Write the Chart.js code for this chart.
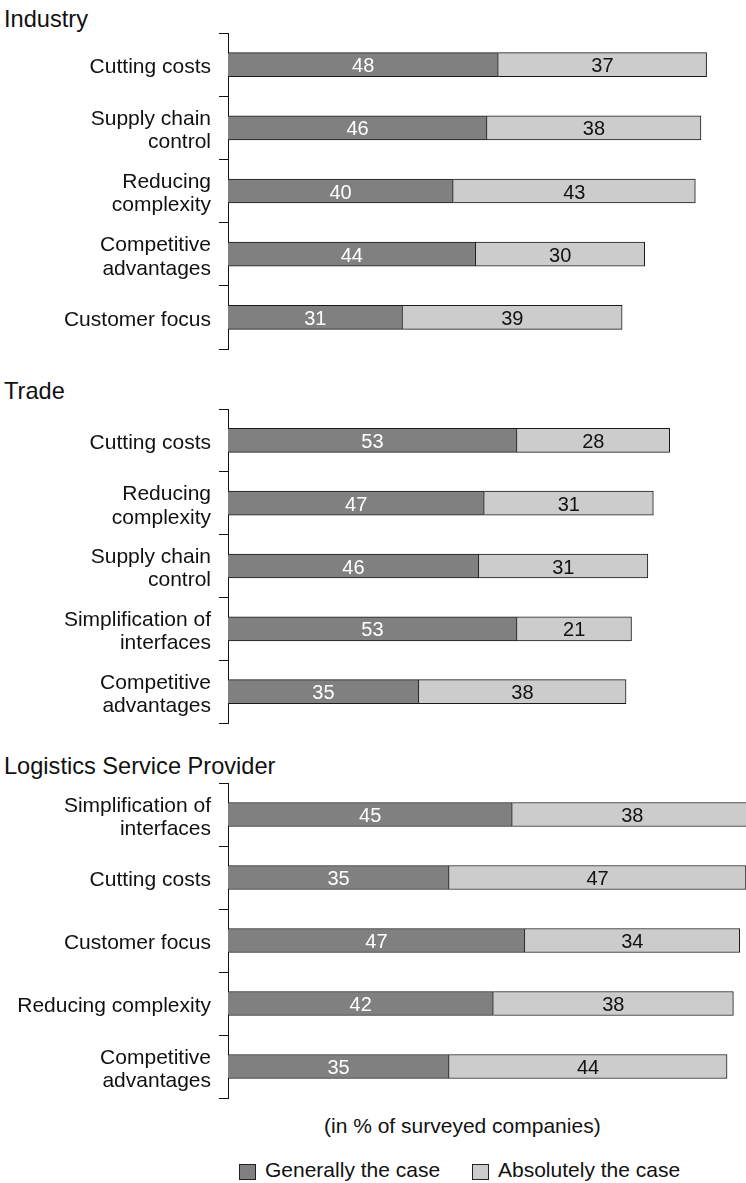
<!DOCTYPE html>
<html>
<head>
<meta charset="utf-8">
<script src="https://cdn.jsdelivr.net/npm/chart.js@4.4.0/dist/chart.umd.min.js"></script>
<style>
    body {
        margin: 0;
        width: 746px;
        height: 1183px;
        position: relative;
        overflow: hidden;
        background: #fff;
        color: #111;
        font-family: "Liberation Sans", Arial, sans-serif;
    }
    .panel-title {
        position: absolute;
        left: 4px;
        font-size: 23.6px;
        line-height: 1;
        white-space: nowrap;
    }
    .chart-box {
        position: absolute;
        left: 0;
    }
    .note {
        position: absolute;
        left: 324px;
        top: 1115px;
        font-size: 21px;
        line-height: 1;
        white-space: nowrap;
    }
    .legend-item {
        position: absolute;
        top: 1159px;
        font-size: 21px;
        line-height: 1;
        white-space: nowrap;
    }
    .swatch {
        position: absolute;
        top: 5px;
        left: -26px;
        width: 15px;
        height: 14px;
        border: 1px solid #222;
    }
</style>
</head>
<body>

<div class="panel-title" style="top:8px">Industry</div>
<canvas id="industryChart" class="chart-box" style="top:32px" width="746" height="320"></canvas>

<div class="panel-title" style="top:380px">Trade</div>
<canvas id="tradeChart" class="chart-box" style="top:408px" width="746" height="318"></canvas>

<div class="panel-title" style="top:755px">Logistics Service Provider</div>
<canvas id="lspChart" class="chart-box" style="top:782px" width="746" height="319"></canvas>

<div class="note">(in % of surveyed companies)</div>

<div class="legend-item" style="left:265px"><span class="swatch" style="background:#808080"></span>Generally the case</div>
<div class="legend-item" style="left:498px"><span class="swatch" style="background:#cccccc"></span>Absolutely the case</div>

<script>
const seriesNames = ['Generally the case', 'Absolutely the case'];

const industryLabels = ['Cutting costs', ['Supply chain', 'control'], ['Reducing', 'complexity'], ['Competitive', 'advantages'], 'Customer focus'];
const industryGeneral = [48, 46, 40, 44, 31];
const industryAbsolute = [37, 38, 43, 30, 39];

const tradeLabels = ['Cutting costs', ['Reducing', 'complexity'], ['Supply chain', 'control'], ['Simplification of', 'interfaces'], ['Competitive', 'advantages']];
const tradeGeneral = [53, 47, 46, 53, 35];
const tradeAbsolute = [28, 31, 31, 21, 38];

const lspLabels = [['Simplification of', 'interfaces'], 'Cutting costs', 'Customer focus', 'Reducing complexity', ['Competitive', 'advantages']];
const lspGeneral = [45, 35, 47, 42, 35];
const lspAbsolute = [38, 47, 34, 38, 44];

const FONT = '"Liberation Sans", Arial, sans-serif';

// numbers printed in the middle of each bar segment
const valueLabels = {
    id: 'valueLabels',
    afterDatasetsDraw(chart) {
        const ctx = chart.ctx;
        ctx.save();
        ctx.font = '20px ' + FONT;
        ctx.textAlign = 'center';
        ctx.textBaseline = 'middle';
        chart.data.datasets.forEach((ds, i) => {
            const meta = chart.getDatasetMeta(i);
            ctx.fillStyle = i === 0 ? '#ffffff' : '#111111';
            meta.data.forEach((bar, j) => {
                const { x, y, base } = bar.getProps(['x', 'y', 'base'], true);
                ctx.fillText(ds.data[j], (x + base) / 2, y + 2);
            });
        });
        ctx.restore();
    }
};

function renderPanel(canvasId, labels, general, absolute, xMax) {
    const ctx = document.getElementById(canvasId).getContext('2d');

    return new Chart(ctx, {
        type: 'bar',
        data: {
            labels: labels,
            datasets: [{
                label: seriesNames[0],
                data: general,
                backgroundColor: '#808080',
                borderColor: '#1a1a1a',
                borderWidth: 1,
                barThickness: 24
            }, {
                label: seriesNames[1],
                data: absolute,
                backgroundColor: '#cccccc',
                borderColor: '#1a1a1a',
                borderWidth: 1,
                barThickness: 24
            }]
        },
        options: {
            indexAxis: 'y',
            responsive: false,
            animation: false,
            devicePixelRatio: 1,
            layout: {
                padding: { top: 1, bottom: 3, left: 0, right: 0 }
            },
            plugins: {
                legend: { display: false },
                tooltip: { enabled: false }
            },
            scales: {
                x: {
                    stacked: true,
                    display: false,
                    min: 0,
                    max: xMax
                },
                y: {
                    stacked: true,
                    grid: {
                        offset: true,
                        drawOnChartArea: false,
                        tickLength: 9,
                        color: '#111',
                        lineWidth: 1
                    },
                    border: { display: true, color: '#111', width: 1 },
                    ticks: {
                        color: '#111',
                        padding: 8,
                        labelOffset: 3,
                        autoSkip: false,
                        font: { family: FONT, size: 21, lineHeight: 1.1 }
                    },
                    afterFit: (scale) => {
                        scale.width = 228;
                        scale.paddingTop = 0;
                        scale.paddingBottom = 0;
                    }
                }
            }
        },
        plugins: [valueLabels]
    });
}

renderPanel('industryChart', industryLabels, industryGeneral, industryAbsolute, 92);
renderPanel('tradeChart', tradeLabels, tradeGeneral, tradeAbsolute, 95);
renderPanel('lspChart', lspLabels, lspGeneral, lspAbsolute, 82);
</script>
</body>
</html>
